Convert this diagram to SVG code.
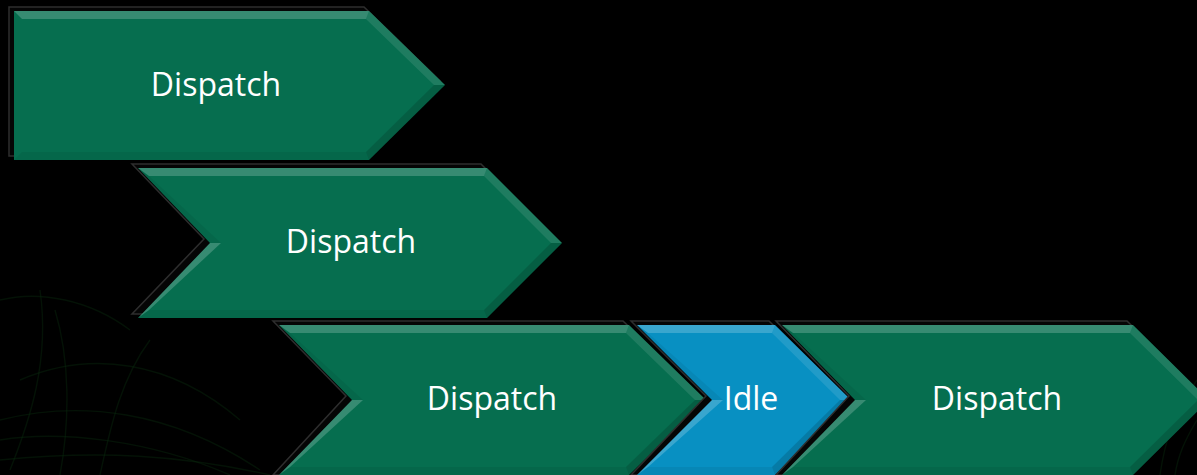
<svg xmlns="http://www.w3.org/2000/svg" width="1197" height="475" viewBox="0 0 1197 475">
  <defs>
    <style>
      .shadow { fill: #050505; stroke: #2e2e2e; stroke-width: 1.5; }
      .green { fill: #066E4F; }
      .blue { fill: #0890C2; }
      .lt { fill: #ffffff; fill-opacity: 0.2; }
      .lt2 { fill: #ffffff; fill-opacity: 0.1; }
      .dk { fill: #000000; fill-opacity: 0.14; }
      .dk2 { fill: #000000; fill-opacity: 0.06; }
      .label { font-family: "Open Sans", "DejaVu Sans", sans-serif; font-size: 32px; fill: #ffffff; text-anchor: middle; }
      .grass { fill: none; stroke: #0b2e0e; stroke-width: 1.4; stroke-opacity: 0.4; }
    </style>
  </defs>

  <rect x="0" y="0" width="1197" height="475" fill="#000000"/>

  <!-- faint grass strands in the background -->
  <g id="grass">
    <path class="grass" d="M0,300 C40,290 90,300 130,330"/>
    <path class="grass" d="M10,470 C30,420 50,360 40,290"/>
    <path class="grass" d="M60,475 C70,420 70,360 55,310"/>
    <path class="grass" d="M0,420 C80,400 170,410 260,470"/>
    <path class="grass" d="M0,440 C60,430 150,440 230,475"/>
    <path class="grass" d="M20,380 C90,350 170,360 240,420"/>
    <path class="grass" d="M0,460 C100,450 180,455 270,475"/>
    <path class="grass" d="M100,475 C110,430 120,380 150,340"/>
    <path class="grass" d="M1197,380 C1175,410 1165,440 1160,475"/>
    <path class="grass" d="M1197,420 C1185,440 1178,455 1175,475"/>
  </g>

  <!-- first dispatch: plain pentagon arrow -->
  <g id="dispatch-1">
    <polygon class="shadow" points="9,7 364,7 440,81 364,156 9,156"/>
    <polygon class="green" points="14,11 369,11 445,85 369,160 14,160"/>
    <polygon class="lt" points="14,11 369,11 366,19 22,19"/>
    <polygon class="lt2" points="369,11 445,85 434,85 366,19"/>
    <polygon class="dk" points="445,85 369,160 366,152 434,85"/>
    <polygon class="dk2" points="369,160 14,160 22,152 366,152"/>
    <text class="label" x="216" y="96">Dispatch</text>
  </g>

  <!-- second dispatch: chevron -->
  <g id="dispatch-2">
    <polygon class="shadow" points="132,164 481,164 556,239 481,314 132,314 204,239"/>
    <polygon class="green" points="138,168 487,168 562,243 487,318 138,318 210,243"/>
    <polygon class="lt" points="138,168 487,168 484,176 149,176"/>
    <polygon class="lt2" points="487,168 562,243 551,243 484,176"/>
    <polygon class="dk" points="562,243 487,318 484,310 551,243"/>
    <polygon class="dk2" points="487,318 138,318 149,310 484,310"/>
    <polygon class="lt" points="138,318 210,243 221,243 149,310"/>
    <polygon class="dk2" points="210,243 138,168 149,176 221,243"/>
    <text class="label" x="351" y="253">Dispatch</text>
  </g>

  <!-- third dispatch -->
  <g id="dispatch-3">
    <polygon class="shadow" points="273,321 623,321 700,396 623,475 273,475 346,396"/>
    <polygon class="green" points="279,325 629,325 706,400 629,475 279,475 352,400"/>
    <polygon class="lt" points="279,325 629,325 626,333 290,333"/>
    <polygon class="lt2" points="629,325 706,400 695,400 626,333"/>
    <polygon class="dk" points="706,400 629,475 626,467 695,400"/>
    <polygon class="dk2" points="629,475 279,475 290,467 626,467"/>
    <polygon class="lt" points="279,475 352,400 363,400 290,467"/>
    <polygon class="dk2" points="352,400 279,325 290,333 363,400"/>
    <text class="label" x="492" y="410">Dispatch</text>
  </g>

  <!-- idle gap -->
  <g id="idle">
    <polygon class="shadow" points="631,321 769,321 845,396 769,475 631,475 706,396"/>
    <polygon class="blue" points="637,325 775,325 851,400 775,475 637,475 712,400"/>
    <polygon class="lt" points="637,325 775,325 772,333 648,333"/>
    <polygon class="lt2" points="775,325 851,400 840,400 772,333"/>
    <polygon class="dk" points="851,400 775,475 772,467 840,400"/>
    <polygon class="dk2" points="775,475 637,475 648,467 772,467"/>
    <polygon class="lt" points="637,475 712,400 723,400 648,467"/>
    <polygon class="dk2" points="712,400 637,325 648,333 723,400"/>
    <text class="label" x="751" y="410">Idle</text>
  </g>

  <!-- fourth dispatch, running past the right edge -->
  <g id="dispatch-4">
    <polygon class="shadow" points="776,321 1127,321 1203,396 1127,475 776,475 849,396"/>
    <polygon class="green" points="782,325 1133,325 1209,400 1133,475 782,475 855,400"/>
    <polygon class="lt" points="782,325 1133,325 1130,333 793,333"/>
    <polygon class="lt2" points="1133,325 1209,400 1198,400 1130,333"/>
    <polygon class="dk" points="1209,400 1133,475 1130,467 1198,400"/>
    <polygon class="dk2" points="1133,475 782,475 793,467 1130,467"/>
    <polygon class="lt" points="782,475 855,400 866,400 793,467"/>
    <polygon class="dk2" points="855,400 782,325 793,333 866,400"/>
    <text class="label" x="997" y="410">Dispatch</text>
  </g>

  <g id="connectors"/>
</svg>
